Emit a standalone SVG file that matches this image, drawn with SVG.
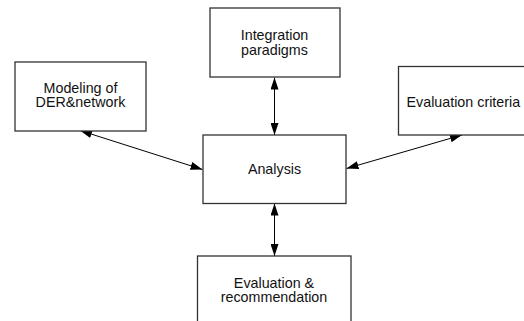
<svg xmlns="http://www.w3.org/2000/svg" width="524" height="321" viewBox="0 0 524 321">
<defs>
<marker id="ah" viewBox="0 0 12 8" refX="12" refY="4" markerWidth="12" markerHeight="8" markerUnits="userSpaceOnUse" orient="auto-start-reverse">
<path d="M0,0 L12,4 L0,8 Z" fill="#000"/>
</marker>
<style>
.box{fill:#fff;stroke:#333;stroke-width:1.3}
.t{font-family:"Liberation Sans",Arial,sans-serif;font-size:14.3px;fill:#111;text-anchor:middle}
.c{stroke:#000;stroke-width:1;fill:none;marker-start:url(#ah);marker-end:url(#ah)}
</style>
</defs>
<g id="connectors">
<line class="c" x1="274.5" y1="77.5" x2="274.5" y2="135"/>
<line class="c" x1="274.5" y1="203.5" x2="274.5" y2="256"/>
<line class="c" x1="80" y1="130.5" x2="202.5" y2="169.5"/>
<line class="c" x1="346.5" y1="168.5" x2="462" y2="135"/>
</g>
<g id="integration">
<rect class="box" x="210" y="8" width="130" height="69"/>
<text class="t" x="274.5" y="39.5">Integration</text>
<text class="t" x="274.5" y="54.5">paradigms</text>
</g>
<g id="modeling">
<rect class="box" x="15" y="62" width="131" height="69"/>
<text class="t" x="80.5" y="92.5">Modeling of</text>
<text class="t" x="80.5" y="107">DER&amp;network</text>
</g>
<g id="criteria">
<rect class="box" x="398.5" y="66.5" width="130" height="68.5"/>
<text class="t" x="406.5" y="106.5" style="text-anchor:start">Evaluation criteria</text>
</g>
<g id="analysis">
<rect class="box" x="203" y="135" width="143" height="68.5"/>
<text class="t" x="274.5" y="174">Analysis</text>
</g>
<g id="recommendation">
<rect class="box" x="197.5" y="256" width="153.5" height="70"/>
<text class="t" x="274" y="287.5">Evaluation &amp;</text>
<text class="t" x="274" y="302">recommendation</text>
</g>
</svg>
